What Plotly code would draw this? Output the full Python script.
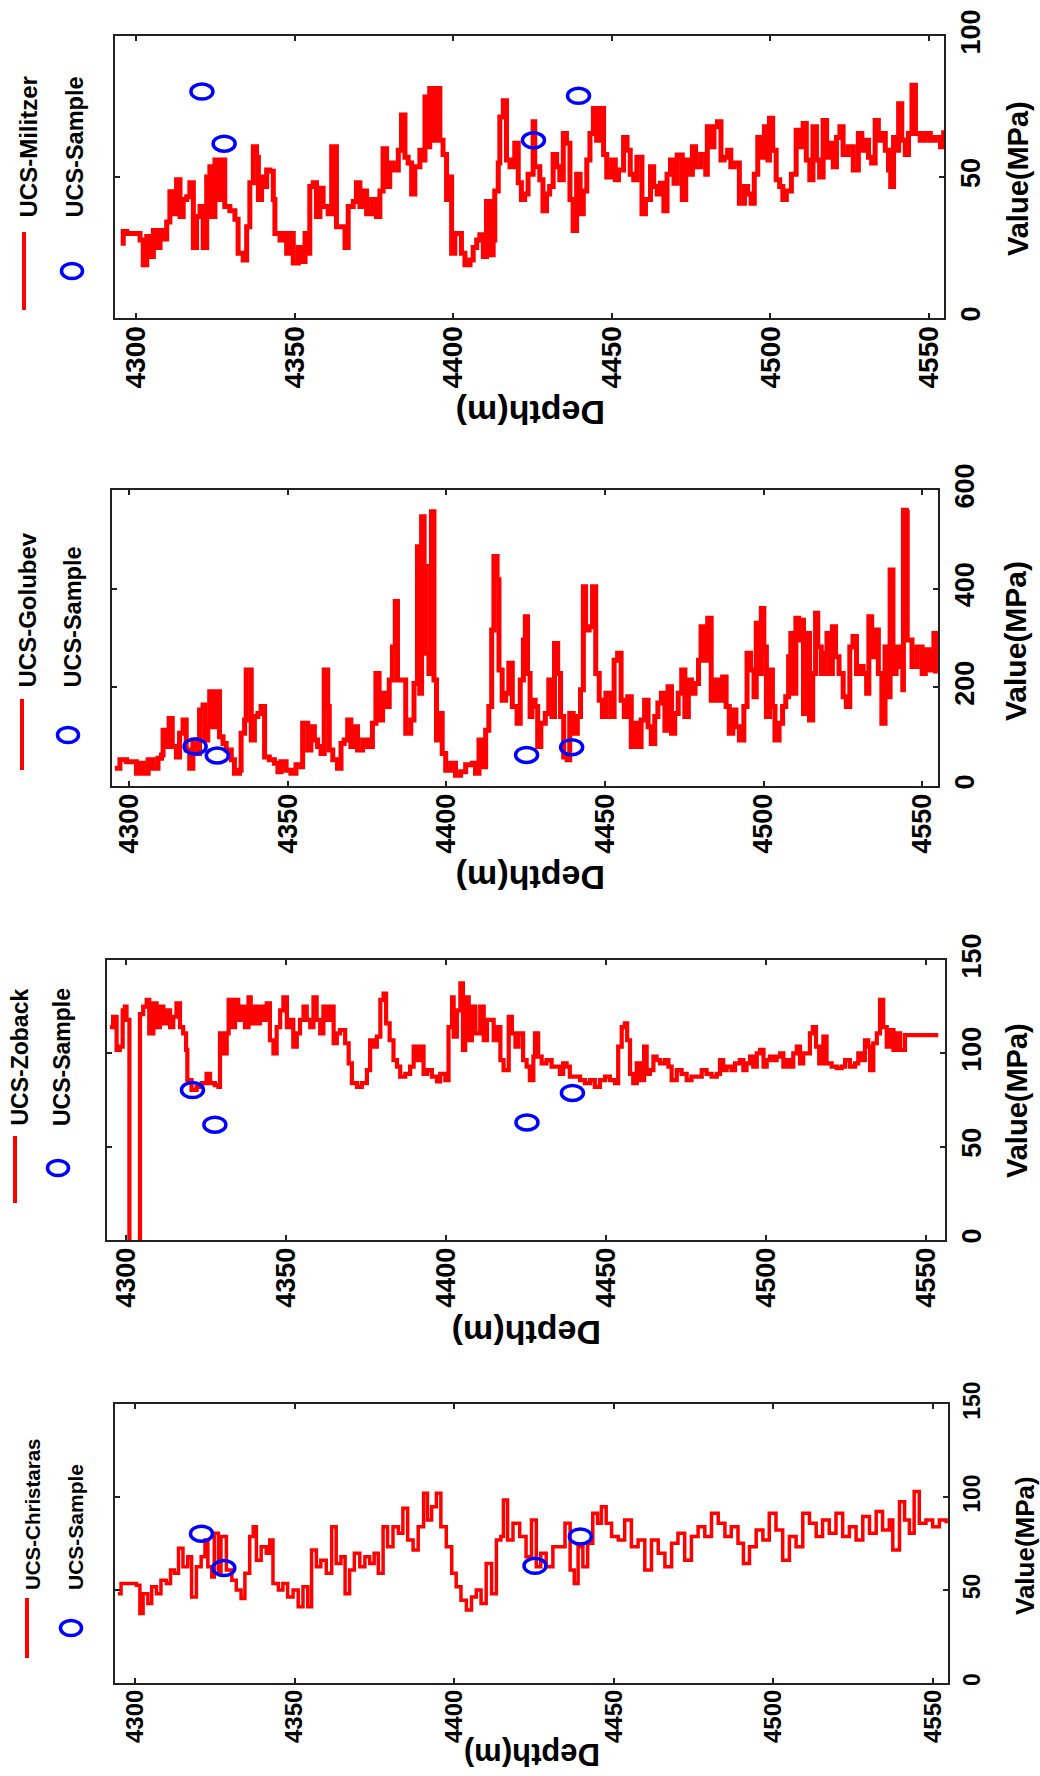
import plotly.graph_objects as go

# ---------------- data ----------------
depth_militzer = [4295.2, 4296.0, 4297.1, 4299.2, 4300.7, 4301.3, 4302.3, 4303.4, 4304.4, 4305.5, 4306.5, 4307.6, 4308.6, 4309.7, 4310.7, 4311.8, 4312.8, 4313.9, 4314.9, 4316.0, 4317.0, 4318.1, 4319.1, 4320.2, 4321.2, 4322.3, 4323.3, 4323.8, 4324.9, 4325.9, 4327.0, 4328.0, 4329.6, 4331.2, 4332.2, 4333.8, 4334.9, 4335.9, 4337.0, 4338.0, 4338.6, 4339.6, 4340.7, 4341.2, 4342.2, 4343.3, 4343.8, 4345.4, 4346.4, 4347.5, 4348.5, 4349.6, 4351.2, 4352.2, 4353.3, 4354.3, 4354.8, 4355.9, 4356.9, 4358.0, 4359.0, 4360.6, 4361.7, 4362.7, 4363.2, 4364.3, 4365.9, 4366.9, 4368.5, 4369.5, 4370.6, 4371.6, 4372.7, 4374.3, 4375.8, 4376.9, 4377.9, 4379.0, 4380.0, 4381.1, 4382.7, 4383.7, 4384.8, 4385.8, 4386.9, 4387.9, 4389.5, 4390.5, 4391.1, 4392.1, 4392.6, 4393.7, 4394.7, 4395.8, 4396.8, 4397.9, 4398.4, 4399.5, 4400.5, 4401.6, 4402.6, 4403.7, 4405.3, 4406.3, 4407.4, 4408.4, 4409.5, 4410.5, 4411.6, 4412.6, 4413.1, 4414.2, 4414.7, 4415.8, 4416.8, 4417.9, 4419.4, 4420.5,
                  4421.5, 4422.5, 4423.6, 4425.2, 4425.7, 4427.3, 4428.3, 4429.4, 4430.4, 4431.5, 4432.6, 4433.6, 4434.7, 4435.7, 4436.8, 4437.8, 4438.9, 4440.0, 4441.0, 4442.1, 4443.1, 4444.2, 4445.2, 4446.3, 4447.4, 4448.4, 4450.0, 4451.1, 4452.1, 4453.7, 4454.8, 4455.8, 4456.9, 4457.9, 4459.5, 4460.6, 4462.2, 4463.2, 4464.3, 4465.3, 4466.4, 4467.4, 4468.5, 4469.6, 4470.6, 4472.2, 4473.3, 4474.3, 4475.4, 4476.4, 4478.0, 4479.6, 4480.1, 4481.2, 4482.2, 4483.3, 4484.4, 4485.4, 4486.5, 4487.5, 4488.6, 4490.2, 4491.8, 4492.8, 4493.9, 4494.9, 4496.0, 4497.0, 4498.1, 4499.2, 4499.7, 4500.7, 4501.8, 4502.9, 4503.9, 4505.0, 4506.6, 4508.1, 4509.2, 4510.3, 4511.3, 4512.4, 4513.4, 4514.5, 4515.5, 4516.6, 4517.7, 4518.7, 4519.8, 4520.8, 4521.9, 4522.9, 4524.5, 4526.1, 4527.7, 4528.8, 4529.8, 4530.9, 4531.9, 4533.0, 4534.0, 4535.1, 4536.2, 4537.2, 4537.9, 4538.8, 4539.9, 4540.4, 4541.4, 4542.5, 4543.5, 4544.6, 4545.7, 4547.2, 4548.8, 4550.4, 4552.0, 4553.6, 4554.6]
ucs_militzer = [26.5, 30.7, 30, 30, 30, 27.7, 18.9, 28.9, 21.8, 31, 25, 31, 28, 34, 44.8, 37, 49, 36, 42, 43, 48, 25, 36, 39.5, 25, 50, 53.6, 36, 56, 42, 56, 39.5, 38, 35, 23, 20.6, 32.4, 48, 60.7, 57, 42, 50, 46.6, 52.5, 52, 42, 30, 27.7, 30, 23, 30, 19.5, 25, 20, 30, 23, 46.6, 48, 36, 46, 39.5, 37, 60.7, 60.7, 32.4, 32.4, 25, 39.5, 41.3, 48, 39.5, 45, 37, 42, 36, 45, 60, 46.6, 55, 52.5, 59.5, 72, 57, 55, 44, 53.6, 59.5, 56, 78.4, 60.7, 81.4, 63, 81.4, 63, 58, 42, 50, 23, 30, 30, 23, 18.9, 20.6, 25, 27.7, 29.5, 21.8, 41.3, 22.4, 27.7, 45, 55, 71.3, 77, 56, 53.6, 62, 48,
                42, 44, 51, 69.6, 53.6, 49, 38, 44, 46.6, 58, 53.6, 49, 65.4, 62, 42, 31, 51, 37, 45, 56, 65.4, 74.3, 63, 74.3, 58, 50, 56, 49, 52.5, 64, 59.5, 51, 49, 57, 37, 42, 53.6, 46.6, 44, 47.8, 38, 51, 56, 47.8, 57.8, 42, 56, 51, 60.7, 53.6, 58, 51, 67.8, 60.7, 67.8, 69.6, 56, 57, 59.5, 53.6, 55, 40.7, 46.6, 44, 40.7, 51, 64, 57, 67.8, 56, 70.8, 59.5, 49, 46.6, 42, 45, 51, 66.6, 60.7, 69, 56, 49, 67.8, 56, 50, 70, 57, 62, 53.6, 64, 67.8, 58, 60.7, 52.5, 65.4, 59.5, 63, 57, 55, 70, 63, 65.4, 59.5, 52.5, 46.6, 64, 59.5, 76, 63, 58, 65.4, 82.5, 65.4, 63, 65.4, 63, 64, 60.7, 66.6]

depth_golubev = [4295.5, 4297.1, 4299.2, 4301.3, 4302.3, 4303.4, 4304.4, 4306.0, 4307.5, 4309.1, 4310.2, 4310.7, 4311.7, 4312.6, 4313.6, 4314.9, 4315.9, 4317.0, 4318.0, 4319.1, 4320.1, 4321.2, 4322.2, 4323.3, 4323.8, 4324.8, 4325.4, 4326.4, 4327.5, 4328.5, 4329.6, 4330.6, 4332.2, 4333.2, 4334.8, 4335.3, 4336.4, 4336.9, 4337.9, 4338.5, 4339.5, 4340.6, 4341.6, 4342.7, 4344.2, 4345.8, 4346.9, 4347.9, 4349.5, 4351.0, 4352.6, 4354.2, 4354.7, 4355.8, 4356.3, 4357.3, 4358.4, 4359.4, 4360.5, 4361.5, 4362.6, 4363.1, 4364.2, 4365.7, 4366.8, 4367.8, 4368.9, 4369.9, 4371.0, 4372.0, 4373.6, 4375.2, 4376.7, 4377.8, 4378.8, 4379.9, 4380.9, 4382.0, 4383.0, 4383.9, 4384.6, 4386.2, 4387.2, 4388.8, 4389.8, 4390.9, 4391.6, 4392.2, 4393.0, 4393.7, 4394.5, 4395.3, 4396.1, 4396.9, 4397.7, 4398.7, 4399.8, 4401.4, 4402.9, 4404.5, 4406.1, 4408.2, 4409.2, 4410.3, 4411.3, 4412.4, 4413.4, 4414.3, 4415.0, 4416.0, 4416.6, 4417.6, 4418.7, 4419.7, 4420.8, 4422.3,
                 4423.3, 4424.3, 4424.9, 4425.6, 4426.4, 4427.0, 4428.0, 4428.8, 4429.8, 4431.2, 4432.3, 4433.3, 4434.1, 4435.1, 4436.0, 4437.0, 4438.1, 4438.9, 4440.0, 4441.3, 4442.3, 4443.2, 4443.9, 4445.0, 4446.1, 4447.1, 4448.2, 4449.2, 4450.3, 4451.9, 4452.9, 4454.0, 4455.1, 4456.1, 4457.2, 4458.3, 4459.3, 4460.4, 4461.4, 4462.5, 4463.6, 4464.6, 4465.7, 4466.7, 4467.8, 4468.9, 4469.9, 4471.0, 4472.0, 4473.1, 4474.2, 4475.2, 4476.3, 4477.3, 4478.4, 4479.5, 4480.3, 4481.4, 4482.4, 4483.5, 4484.8, 4485.8, 4487.1, 4488.2, 4489.2, 4490.3, 4491.3, 4492.4, 4493.8, 4494.8, 4495.9, 4497.0, 4497.7, 4498.3, 4499.3, 4500.1, 4500.9, 4501.9, 4502.8, 4503.6, 4504.9, 4506.0, 4507.0, 4507.9, 4508.6, 4509.4, 4510.2, 4511.1, 4511.8, 4512.6, 4513.4, 4514.5, 4515.5, 4516.4, 4517.1, 4518.2, 4519.2, 4520.0, 4520.8, 4521.7, 4522.7, 4523.8, 4525.1, 4526.1, 4527.2, 4528.2, 4529.3, 4530.4, 4531.4, 4532.5, 4533.2, 4534.1, 4535.1, 4536.2, 4537.3, 4538.3, 4539.1, 4539.9, 4540.8, 4541.8, 4543.1, 4543.9, 4544.1, 4545.0, 4545.3, 4546.8, 4548.4, 4550.0, 4551.0, 4552.1, 4553.2, 4553.7, 4554.2]
ucs_golubev = [36, 53, 49, 49, 26, 46, 26, 53, 36, 56, 63, 113, 80, 137, 80, 59, 107, 134, 73, 36, 93, 66, 154, 164, 93, 124, 191, 120, 191, 100, 86, 73, 53, 26, 32, 107, 134, 235, 235, 93, 141, 147, 161, 59, 53, 46, 29, 49, 32, 26, 43, 39, 127, 127, 73, 120, 93, 80, 66, 235, 161, 73, 53, 36, 86, 93, 134, 80, 120, 73, 93, 80, 127, 228, 134, 188, 161, 215, 282, 374, 215, 215, 107, 134, 208, 485, 188, 546, 445, 269, 228, 556, 215, 93, 147, 66, 32, 46, 22, 29, 43, 46, 26, 93, 39, 113, 161, 316, 465, 418, 235, 174, 188, 249, 161, 127,
               215, 296, 343, 228, 141, 174, 161, 80, 127, 147, 215, 141, 289, 228, 141, 59, 53, 147, 107, 141, 195, 404, 316, 323, 404, 228, 174, 141, 188, 141, 255, 269, 174, 141, 181, 80, 127, 80, 134, 174, 120, 86, 141, 168, 188, 113, 201, 107, 147, 188, 235, 141, 215, 188, 208, 255, 323, 255, 340, 174, 215, 174, 221, 161, 107, 154, 120, 93, 161, 269, 235, 181, 330, 228, 360, 282, 141, 235, 161, 93, 127, 161, 181, 262, 309, 188, 340, 296, 336, 147, 309, 134, 228, 350, 282, 228, 269, 309, 228, 323, 262, 228, 181, 161, 282, 303, 228, 242, 228, 188, 343, 262, 316, 228, 127, 282, 181, 438, 228, 282, 242, 195, 559, 555, 296, 242, 282, 228, 276, 235, 269, 309, 228]

depth_zoback = [4295.0, 4296.0, 4297.1, 4298.1, 4299.0, 4299.7, 4300.2, 4300.8, 4301.1, 4304.0, 4304.4, 4305.4, 4306.5, 4307.3, 4308.6, 4309.6, 4310.6, 4311.7, 4312.7, 4313.8, 4314.8, 4315.8, 4316.9, 4317.9, 4318.8, 4319.2, 4320.5, 4322.1, 4323.7, 4325.2, 4326.3, 4327.8, 4328.9, 4329.4, 4330.4, 4331.5, 4332.1, 4333.1, 4334.1, 4335.1, 4336.2, 4337.2, 4338.3, 4339.0, 4339.8, 4340.9, 4341.9, 4343.0, 4344.0, 4345.0, 4346.1, 4347.1, 4348.2, 4349.2, 4350.3, 4351.3, 4352.3, 4353.4, 4354.4, 4355.5, 4356.5, 4357.6, 4358.6, 4359.6, 4360.7, 4361.7, 4362.8, 4363.8, 4364.9, 4365.9, 4366.9, 4368.5, 4369.6, 4370.6, 4372.2, 4373.7, 4375.3, 4376.3, 4377.4, 4378.4, 4379.5, 4380.5, 4381.3, 4382.4, 4383.6, 4384.7, 4385.7, 4387.3, 4388.8, 4389.9, 4390.9, 4392.0, 4393.0, 4394.1, 4395.6, 4397.2, 4398.2, 4399.8, 4400.8, 4401.9, 4402.4, 4403.4, 4404.5, 4405.3, 4406.0, 4407.1, 4408.1, 4409.2, 4410.7, 4411.8, 4412.8, 4413.9, 4414.9, 4416.0, 4417.0, 4418.0, 4419.6, 4420.6, 4421.7, 4422.7,
                4424.1, 4425.2, 4426.2, 4427.3, 4427.8, 4428.8, 4429.9, 4431.4, 4433.0, 4434.6, 4435.6, 4436.6, 4437.7, 4438.7, 4440.3, 4441.9, 4443.4, 4445.0, 4446.5, 4448.1, 4449.7, 4451.2, 4452.8, 4453.8, 4454.9, 4455.9, 4456.6, 4457.5, 4458.5, 4459.6, 4460.6, 4461.9, 4462.7, 4463.7, 4464.8, 4465.8, 4466.9, 4468.4, 4469.5, 4470.5, 4472.1, 4473.6, 4475.2, 4476.7, 4478.3, 4479.9, 4481.4, 4483.0, 4484.6, 4485.6, 4486.6, 4487.7, 4489.2, 4490.3, 4491.8, 4492.9, 4493.9, 4495.0, 4496.0, 4497.1, 4498.1, 4499.2, 4500.2, 4501.2, 4502.3, 4503.3, 4504.4, 4505.4, 4506.4, 4507.5, 4508.5, 4509.6, 4510.6, 4511.6, 4512.7, 4513.7, 4514.6, 4515.6, 4516.6, 4517.9, 4518.9, 4520.5, 4522.1, 4523.6, 4524.7, 4526.2, 4527.8, 4528.8, 4529.9, 4530.9, 4531.9, 4532.5, 4533.5, 4534.6, 4535.6, 4536.6, 4537.7, 4538.7, 4539.8, 4540.8, 4541.9, 4543.4, 4553.8]
ucs_zoback = [114, 119.6, 101.8, 103.6, 123, 125, 117.9, 117.9, -10, -10, 121, 125, 128.6, 110.7, 126.8, 114, 125, 116, 123, 114, 119.6, 126.8, 114, 110.7, 101.8, 85.7, 80.4, 82, 84, 89, 84, 83, 82, 110.7, 100, 110.7, 128.6, 114, 128.6, 117.9, 125, 114, 130, 116, 125, 116, 125, 117.9, 126.8, 107, 100, 114, 123, 130, 114, 117.9, 103.6, 110.7, 117.9, 125, 117.9, 114, 130, 117.9, 110.7, 125, 117.9, 125, 105.4, 110.7, 112.5, 105.4, 94.6, 84, 82, 84, 91, 107, 103.6, 109, 128.6, 132, 116, 107, 96.4, 92.9, 87.5, 89, 92.9, 103.6, 96.4, 103.6, 89, 91, 87.5, 85, 89, 85.7, 114, 130, 109, 123, 137.5, 101.8, 130, 107, 125, 110.7, 125, 107, 117.9, 117.9, 107, 114, 96.4, 91, 119.6, 110.7, 103.6, 110.7,
              96.4, 92.9, 85.7, 98.2, 110.7, 98.2, 94.6, 96.4, 92.9, 92.9, 89, 94.6, 92.9, 87.5, 87.5, 85.7, 84, 85.7, 82, 85.7, 87.5, 85.7, 84, 103.6, 114, 116, 107, 89, 84, 94.6, 85.7, 103.6, 89, 91, 98.2, 96.4, 94.6, 96.4, 92.9, 85.7, 91, 89, 85.7, 87.5, 87.5, 91, 89, 87.5, 89, 96.4, 91, 92.9, 91, 94.6, 96.4, 91, 94.6, 98.2, 92.9, 100, 101.8, 92.9, 96.4, 98.2, 96.4, 98.2, 100, 92.9, 96.4, 92.9, 100, 103.6, 94.6, 100, 100, 110.7, 114, 103.6, 94.6, 109, 94.6, 92.9, 92, 92.9, 96.4, 92.9, 94.6, 100, 96.4, 107, 103.6, 91, 105.4, 110.7, 128.6, 114, 103.6, 112.5, 101.8, 110.7, 101.8, 109.8, 109.8]

depth_christaras = [4294.6, 4295.6, 4298.3, 4300.4, 4301.5, 4302.5, 4304.0, 4305.2, 4306.7, 4308.1, 4309.8, 4311.1, 4312.3, 4313.6, 4315.0, 4316.5, 4317.7, 4319.2, 4320.7, 4321.9, 4322.8, 4324.0, 4324.8, 4326.1, 4326.9, 4328.6, 4330.3, 4331.7, 4333.2, 4334.4, 4335.9, 4337.0, 4338.0, 4339.5, 4341.1, 4342.2, 4343.2, 4344.9, 4346.3, 4347.8, 4349.5, 4351.1, 4352.6, 4354.1, 4355.3, 4356.8, 4358.2, 4359.9, 4361.6, 4363.0, 4364.5, 4365.8, 4367.2, 4368.7, 4370.4, 4372.0, 4373.5, 4374.9, 4376.2, 4377.7, 4379.1, 4380.8, 4382.5, 4383.9, 4385.4, 4387.1, 4388.7, 4390.4, 4391.6, 4392.9, 4394.4, 4395.8, 4397.5, 4399.2, 4400.6, 4402.1, 4403.8, 4405.4, 4406.9, 4408.4, 4410.0, 4411.7, 4413.2, 4414.6, 4415.4, 4416.7, 4418.4, 4420.5, 4422.5, 4424.2, 4425.7, 4427.1, 4428.8, 4430.9, 4433.0, 4434.7, 4436.3, 4437.6, 4438.8, 4440.3, 4441.8, 4443.4, 4444.9, 4446.1, 4447.6, 4449.3, 4451.4, 4453.4, 4455.5, 4457.6, 4459.7, 4461.8, 4463.9, 4466.0, 4468.1, 4470.1, 4472.2, 4474.3, 4476.4, 4478.5, 4480.6, 4482.7, 4484.8, 4486.8, 4488.9, 4490.6, 4492.5, 4494.6, 4496.7, 4498.7, 4500.8, 4502.9, 4505.0, 4507.1, 4509.2, 4511.3, 4513.4, 4515.4, 4517.5, 4519.6, 4521.7, 4523.8, 4525.9, 4528.0, 4530.1, 4532.2, 4534.2, 4536.3, 4537.4, 4539.5, 4541.1, 4542.6, 4544.1, 4545.7, 4547.8, 4549.9, 4552.0, 4554.1]
ucs_christaras = [48, 53.5, 53.5, 52.6, 37.4, 48, 42.8, 51.7, 48, 55.3, 53.5, 60.7, 59, 72.4, 62.5, 67.9, 46.3, 62.5, 67.9, 76.9, 62.5, 57, 80.5, 59, 78.7, 60.7, 55.3, 50, 45.4, 59, 78.7, 84, 66, 73.3, 69.7, 76.9, 53.5, 50, 53.5, 46.3, 50, 41, 51.7, 41, 71.5, 62.5, 66, 59, 84, 64.3, 67.9, 48, 60.7, 69.7, 62.5, 67.9, 64.3, 69.7, 59, 84, 73.3, 84, 80.5, 94, 76.9, 71.5, 84, 102, 87.7, 94.8, 102, 84, 73.3, 59, 51.7, 44.5, 39.2, 46.3, 50, 42.8, 64.3, 48, 76.9, 78.7, 98.4, 76.9, 85.9, 78.7, 67.9, 87.7, 62.5, 69.7, 62.5, 73.3, 73.3, 85.9, 60.7, 53.5, 73.3, 62.5, 75.1, 91.3, 85.9, 94.8, 85.9, 78.7, 76.9, 87.7, 73.3, 76.9, 60.7, 76.9, 69.7, 62.5, 75.1, 80.5, 66, 78.7, 84, 78.7, 91.3, 85.9, 78.7, 84, 75.1, 64.3, 73.3, 82.3, 76.9, 91.3, 82.3, 66, 78.7, 73.3, 91.3, 85.9, 78.7, 87.7, 80.5, 91.3, 78.7, 84, 76.9, 89.5, 80.5, 92.2, 82.3, 87.7, 71.5, 97.5, 87.7, 80.5, 103, 85.9, 87.7, 84, 87.7, 85.9]

# core sample measurements (depth in m, UCS in MPa)
sample_depth = [4320.8, 4327.8, 4425.3, 4439.5]
sample_ucs = [80.3, 61.8, 63.0, 78.8]

depth_ticks = [4300, 4350, 4400, 4450, 4500, 4550]

# ---------------- layout helpers ----------------
W, H = 1040, 1776
FONT = "Liberation Sans, Arial, Helvetica, sans-serif"
RED = "#ff0000"
BLUE = "#0000ff"


def fx(px):
    return px / W


def fy(py):
    return 1 - py / H


panels = [
    dict(name="UCS-Militzer", d=depth_militzer, v=ucs_militzer, box=(115, 944, 36, 318),
         xr=[4293.4, 4554.7], yr=[0, 100], yt=[0, 50, 100], lw=5,
         xtick_fs=28, ytick_fs=27, title_fs=29, depth_fs=34, leg_fs=(24, 23.5),
         leg=dict(line_x=24, line_y=(232, 310), circ=(72, 271), t1x=28, t2x=75, tb=220),
         val_title=(1018, 179), depth_title=(531, 413)),
    dict(name="UCS-Golubev", d=depth_golubev, v=ucs_golubev, box=(112, 938, 490, 786),
         xr=[4294.6, 4555.0], yr=[0, 600], yt=[0, 200, 400, 600], lw=5,
         xtick_fs=27, ytick_fs=27, title_fs=30, depth_fs=34, leg_fs=(24, 23.5),
         leg=dict(line_x=22, line_y=(699, 770), circ=(68, 735), t1x=27, t2x=72, tb=690),
         val_title=(1015, 641), depth_title=(531, 878)),
    dict(name="UCS-Zoback", d=depth_zoback, v=ucs_zoback, box=(107, 945, 960, 1240),
         xr=[4294.1, 4555.9], yr=[0, 150], yt=[0, 50, 100, 150], lw=4.2,
         xtick_fs=27, ytick_fs=27, title_fs=29, depth_fs=34, leg_fs=(23, 23),
         leg=dict(line_x=15, line_y=(1136, 1203), circ=(58, 1168), t1x=19, t2x=62, tb=1128),
         val_title=(1017, 1101), depth_title=(527, 1333)),
    dict(name="UCS-Christaras", d=depth_christaras, v=ucs_christaras, box=(115, 948, 1404, 1683),
         xr=[4293.7, 4554.7], yr=[0, 150], yt=[0, 50, 100, 150], lw=3.5,
         xtick_fs=24, ytick_fs=23, title_fs=26, depth_fs=31, leg_fs=(20.5, 21),
         leg=dict(line_x=27, line_y=(1598, 1658), circ=(71, 1628), t1x=32, t2x=75, tb=1592),
         val_title=(1025, 1546), depth_title=(532, 1755)),
]

fig = go.Figure()
shapes = []
annotations = []
layout_axes = {}

for i, p in enumerate(panels, start=1):
    xa = "x" if i == 1 else f"x{i}"
    ya = "y" if i == 1 else f"y{i}"
    x0, x1, y0, y1 = p["box"]

    # stepped well-log curve
    fig.add_trace(go.Scatter(
        x=p["d"], y=p["v"], xaxis=xa, yaxis=ya, mode="lines",
        line=dict(color=RED, width=p["lw"], shape="hv"), name=p["name"], showlegend=False,
    ))

    axis_common = dict(
        showline=True, linecolor="#222222", linewidth=2, mirror="ticks",
        ticks="inside", ticklen=5, tickwidth=1.5, tickcolor="#222222",
        showgrid=False, zeroline=False, automargin=False, tickangle=-90,
    )
    layout_axes["xaxis" if i == 1 else f"xaxis{i}"] = dict(
        axis_common, domain=[fx(x0), fx(x1)], range=p["xr"], anchor=ya,
        tickvals=depth_ticks, side="bottom", ticklabelstandoff=-5,
        tickfont=dict(family=FONT, size=p["xtick_fs"], color="black", weight="bold"),
    )
    layout_axes["yaxis" if i == 1 else f"yaxis{i}"] = dict(
        axis_common, domain=[fy(y1), fy(y0)], range=p["yr"], anchor=xa,
        tickvals=p["yt"], side="right", ticklabelstandoff=2,
        tickfont=dict(family=FONT, size=p["ytick_fs"], color="black", weight="bold"),
    )

    # core samples drawn as open ellipses anchored on the data axes
    for sd, sv in zip(sample_depth, sample_ucs):
        shapes.append(dict(
            type="circle", xref=xa, yref=ya, xsizemode="pixel", ysizemode="pixel",
            xanchor=sd, yanchor=sv, x0=-11, x1=11, y0=-7.5, y1=7.5,
            line=dict(color=BLUE, width=3.5), fillcolor="rgba(0,0,0,0)",
        ))

    # axis titles
    vx, vy = p["val_title"]
    annotations.append(dict(
        text="Value(MPa)", xref="paper", yref="paper", x=fx(vx), y=fy(vy),
        xanchor="center", yanchor="middle", showarrow=False, textangle=-90,
        font=dict(family=FONT, size=p["title_fs"], color="black", weight="bold"),
    ))
    dx, dy = p["depth_title"]
    annotations.append(dict(
        text="Depth(m)", xref="paper", yref="paper", x=fx(dx), y=fy(dy),
        xanchor="center", yanchor="middle", showarrow=False, textangle=180,
        font=dict(family=FONT, size=p["depth_fs"], color="black", weight="bold"),
    ))

    # legend, written sideways on the left of each panel
    lg = p["leg"]
    shapes.append(dict(
        type="line", xref="paper", yref="paper",
        x0=fx(lg["line_x"]), x1=fx(lg["line_x"]), y0=fy(lg["line_y"][0]), y1=fy(lg["line_y"][1]),
        line=dict(color=RED, width=4),
    ))
    cx, cy = lg["circ"]
    shapes.append(dict(
        type="circle", xref="paper", yref="paper",
        x0=fx(cx - 10.5), x1=fx(cx + 10.5), y0=fy(cy + 7.5), y1=fy(cy - 7.5),
        line=dict(color=BLUE, width=3.5),
    ))
    for label, tx, fs in ((p["name"], lg["t1x"], p["leg_fs"][0]), ("UCS-Sample", lg["t2x"], p["leg_fs"][1])):
        annotations.append(dict(
            text=label, xref="paper", yref="paper", x=fx(tx), y=fy(lg["tb"]),
            xanchor="center", yanchor="bottom", showarrow=False, textangle=-90,
            font=dict(family=FONT, size=fs, color="black", weight="bold"),
        ))

fig.update_layout(
    template="none",
    width=W, height=H, margin=dict(l=0, r=0, t=0, b=0, pad=0),
    paper_bgcolor="white", plot_bgcolor="white",
    showlegend=False, shapes=shapes, annotations=annotations,
    **layout_axes,
)

fig.write_html("out.html")
